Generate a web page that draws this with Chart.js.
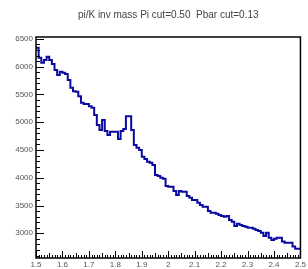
<!DOCTYPE html>
<html>
<head>
<meta charset="utf-8">
<script src="https://cdn.jsdelivr.net/npm/chart.js@4/dist/chart.umd.min.js"></script>
<style>
  html, body { margin: 0; padding: 0; background: #fff; }
  #wrap { width: 308px; height: 269px; }
</style>
</head>
<body>
<div id="wrap"><canvas id="grafico" width="308" height="269"></canvas></div>
<script>
// Datos del histograma (100 bins de 0.01 entre 1.5 y 2.5)
const titulo = "pi/K inv mass Pi cut=0.50  Pbar cut=0.13";
const xMin = 1.5;
const xMax = 2.5;
const anchoBin = 0.01;
const cuentas = [
  6340, 6340, 6160, 6070, 6120, 6180, 6120, 6050, 5940, 5850,
  5910, 5890, 5870, 5760, 5620, 5560, 5550, 5470, 5350, 5330,
  5330, 5290, 5260, 5130, 4950, 4860, 5040, 4840, 4770, 4830,
  4830, 4830, 4700, 4840, 4880, 5110, 5110, 4860, 4590, 4540,
  4500, 4380, 4340, 4290, 4270, 4230, 4050, 4030, 4000, 3980,
  3850, 3840, 3840, 3760, 3690, 3760, 3750, 3750, 3670, 3640,
  3600, 3600, 3550, 3510, 3480, 3480, 3400, 3370, 3370, 3350,
  3330, 3310, 3300, 3310, 3240, 3210, 3130, 3170, 3150, 3130,
  3120, 3100, 3100, 3080, 3060, 3040, 3010, 2950, 3010, 2920,
  2880, 2900, 2920, 2920, 2850, 2830, 2830, 2830, 2760, 2720
];
const ticksX = [1.5, 1.6, 1.7, 1.8, 1.9, 2.0, 2.1, 2.2, 2.3, 2.4, 2.5];
const ticksY = [3000, 3500, 4000, 4500, 5000, 5500, 6000, 6500];
const yMin = 2555;
const yMax = 6535;

// puntos del histograma (borde izquierdo de cada bin)
const puntos = cuentas.map((c, i) => ({ x: xMin + i * anchoBin, y: c }));
puntos.push({ x: xMax, y: cuentas[cuentas.length - 1] });

// Ticks estilo ROOT hacia adentro + marco
const marcoRoot = {
  id: "marcoRoot",
  afterDatasetsDraw(chart) {
    const { ctx, chartArea, scales } = chart;
    const { left, right, top, bottom } = chartArea;
    ctx.save();
    ctx.strokeStyle = "#000";
    ctx.lineWidth = 1;
    ctx.beginPath();
    // eje y: mayores cada 500, menores cada 100
    for (let v = 2600; v <= yMax; v += 100) {
      const y = Math.round(scales.y.getPixelForValue(v)) + 0.5;
      const largo = v % 500 === 0 ? 8 : 4;
      ctx.moveTo(left, y);
      ctx.lineTo(left + largo, y);
    }
    // eje x: mayores cada 0.1, medios cada 0.05, menores cada 0.01
    for (let k = 0; k <= 100; k++) {
      const x = Math.round(scales.x.getPixelForValue(xMin + k * 0.01)) + 0.5;
      let largo = 3;
      if (k % 10 === 0) largo = 7;
      else if (k % 5 === 0) largo = 5;
      ctx.moveTo(x, bottom);
      ctx.lineTo(x, bottom - largo);
    }
    ctx.stroke();
    ctx.lineWidth = 1.5;
    ctx.strokeRect(left, top, right - left, bottom - top);
    ctx.restore();
  }
};

const ctx = document.getElementById("grafico").getContext("2d");

new Chart(ctx, {
  type: "line",
  data: {
    datasets: [{
      data: puntos,
      stepped: "after",
      borderColor: "#0a0aa0",
      borderWidth: 2,
      pointRadius: 0,
      fill: false
    }]
  },
  options: {
    responsive: false,
    animation: false,
    layout: { padding: { top: 0, right: 6, bottom: 0, left: 0 } },
    plugins: {
      legend: { display: false },
      tooltip: { enabled: false },
      title: {
        display: true,
        text: titulo,
        fullSize: false,
        color: "#444",
        font: { family: "Liberation Sans", size: 10, weight: "normal" },
        padding: { top: 9, bottom: 16 }
      }
    },
    scales: {
      x: {
        type: "linear",
        min: xMin,
        max: xMax,
        afterBuildTicks: s => { s.ticks = ticksX.map(v => ({ value: v })); },
        afterFit: s => { s.height = 11; },
        grid: { display: false, drawTicks: false },
        border: { display: false },
        ticks: {
          color: "#555",
          padding: 2,
          maxRotation: 0,
          autoSkip: false,
          font: { family: "Liberation Sans", size: 8 },
          callback: v => String(Math.round(v * 10) / 10)
        }
      },
      y: {
        type: "linear",
        min: yMin,
        max: yMax,
        afterBuildTicks: s => { s.ticks = ticksY.map(v => ({ value: v })); },
        afterFit: s => { s.width = 36; },
        grid: { display: false, drawTicks: false },
        border: { display: false },
        ticks: {
          color: "#555",
          padding: 3,
          font: { family: "Liberation Sans", size: 8 },
          callback: v => String(v)
        }
      }
    }
  },
  plugins: [marcoRoot]
});
</script>
</body>
</html>
